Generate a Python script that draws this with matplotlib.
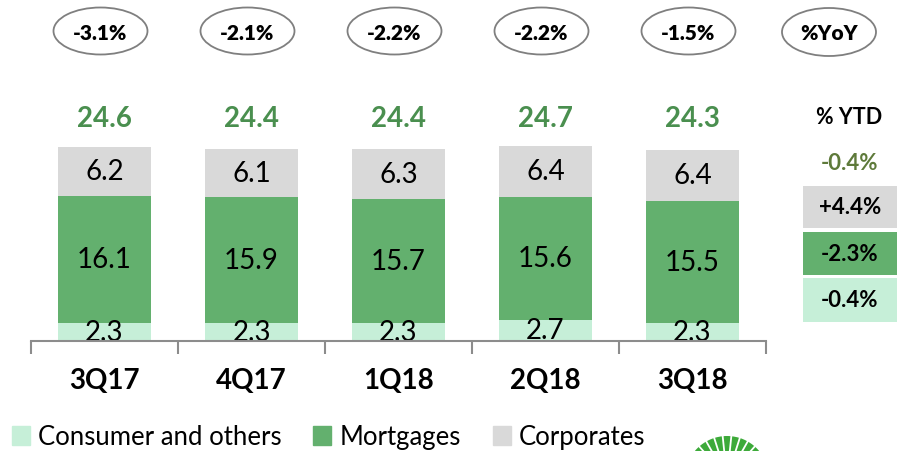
import matplotlib
matplotlib.use("Agg")
import matplotlib.pyplot as plt
from matplotlib.patches import Ellipse, Rectangle, Wedge
import numpy as np

plt.rcParams['font.family'] = ['Lato', 'DejaVu Sans']

categories = ["3Q17", "4Q17", "1Q18", "2Q18", "3Q18"]
consumer = [2.3, 2.3, 2.3, 2.7, 2.3]
mortgages = [16.1, 15.9, 15.7, 15.6, 15.5]
corporates = [6.2, 6.1, 6.3, 6.4, 6.4]
totals = [24.6, 24.4, 24.4, 24.7, 24.3]
yoy = ["-3.1%", "-2.1%", "-2.2%", "-2.2%", "-1.5%"]
ytd_total = "-0.4%"
ytd_corporates = "+4.4%"
ytd_mortgages = "-2.3%"
ytd_consumer = "-0.4%"
series_names = ["Consumer and others", "Mortgages", "Corporates"]

c_cons = "#C6EFD8"
c_mort = "#63B06E"
c_corp = "#D9D9D9"
c_total = "#4A8F4F"
c_olive = "#5E7A3A"

W, H = 909, 452
fig = plt.figure(figsize=(W / 100, H / 100), dpi=100)

def fx(x):
    return x / W

def fy(y):
    return 1 - y / H

# overlay axes in pixel coordinates (y downwards)
ov = fig.add_axes([0, 0, 1, 1])
ov.set_xlim(0, W)
ov.set_ylim(H, 0)
ov.axis('off')

ax_left, ax_right, ax_bottom = 31, 766, 342
ppu = 7.89
ax = fig.add_axes([fx(ax_left), fy(ax_bottom), (ax_right - ax_left) / W, ax_bottom / H])
ax.set_xlim(-0.5, 4.5)
ax.set_ylim(0, ax_bottom / ppu)

x = np.arange(len(categories))
bw = 0.63
cons = np.array(consumer)
mort = np.array(mortgages)
corp = np.array(corporates)
ax.bar(x, cons, bw, color=c_cons, label=series_names[0], zorder=2)
ax.bar(x, mort, bw, bottom=cons, color=c_mort, label=series_names[1], zorder=2)
ax.bar(x, corp, bw, bottom=cons + mort, color=c_corp, label=series_names[2], zorder=2)

for i in range(len(categories)):
    ax.text(x[i], cons[i] / 2 + 0.05, f"{consumer[i]:.1f}", ha='center', va='center',
            fontsize=20, color='black', clip_on=True, zorder=3)
    ax.text(x[i], cons[i] + mort[i] / 2, f"{mortgages[i]:.1f}", ha='center', va='center',
            fontsize=20, color='black', zorder=3)
    ax.text(x[i], cons[i] + mort[i] + corp[i] / 2, f"{corporates[i]:.1f}", ha='center', va='center',
            fontsize=20, color='black', zorder=3)

def xpix(i):
    return ax_left + (x[i] + 0.5) / 5.0 * (ax_right - ax_left)

# totals
for i in range(len(categories)):
    ov.text(xpix(i), 119, f"{totals[i]:.1f}", ha='center', va='center',
            fontsize=20, fontweight='bold', color=c_total)

# YoY ellipses
for i in range(len(categories)):
    xc = xpix(i) - 4
    ov.add_patch(Ellipse((xc, 32), 94, 47, facecolor='white', edgecolor='#7F7F7F', lw=1.3))
    ov.text(xc, 33, yoy[i], ha='center', va='center', fontsize=15,
            fontweight='heavy', color='black')
ov.add_patch(Ellipse((829, 33), 94, 48, facecolor='white', edgecolor='#7F7F7F', lw=1.3))
ov.text(829, 34, "%YoY", ha='center', va='center', fontsize=15,
        fontweight='heavy', color='black')

# YTD panel
ov.text(849, 118, "% YTD", ha='center', va='center', fontsize=15.5,
        fontweight='bold', color='black')
ov.text(850, 164, ytd_total, ha='center', va='center', fontsize=16,
        fontweight='bold', color=c_olive)
boxes = [(187, 229, c_corp, ytd_corporates), (233, 276, c_mort, ytd_mortgages),
         (279, 323, c_cons, ytd_consumer)]
for y0, y1, col, txt in boxes:
    ov.add_patch(Rectangle((803, y0), 94, y1 - y0, facecolor=col, edgecolor='none'))
    ov.text(850, (y0 + y1) / 2, txt, ha='center', va='center', fontsize=16,
            fontweight='bold', color='black')

# axes styling
for s in ['top', 'right', 'left']:
    ax.spines[s].set_visible(False)
ax.spines['bottom'].set_color('#8C8C8C')
ax.spines['bottom'].set_linewidth(1.5)
ax.spines['bottom'].set_zorder(4)
ax.set_yticks([])
ax.set_xticks(x)
ax.set_xticklabels(categories, fontsize=20, fontweight='bold')
ax.tick_params(axis='x', which='major', length=0, pad=19)
ax.set_xticks(np.arange(-0.5, 5.0, 1.0), minor=True)
ax.tick_params(axis='x', which='minor', length=9, width=1.5, color='#8C8C8C', direction='out')
ax.patch.set_alpha(0)

# legend
handles = [Rectangle((0, 0), 1, 1, color=c) for c in (c_cons, c_mort, c_corp)]
leg = fig.legend(handles, series_names, loc='center left',
                 bbox_to_anchor=(fx(12), fy(438)), ncol=3, frameon=False,
                 fontsize=18.5, handlelength=0.7, handleheight=0.75, handletextpad=0.3,
                 columnspacing=1.25, borderaxespad=0, borderpad=0)

# logo (partially visible)
cx, cy, rr = 727, 479, 42
ov.add_patch(Wedge((cx, cy), rr, 0, 360, facecolor='#3DAA3A', edgecolor='none'))
for ang in np.linspace(25, 155, 12):
    a = np.deg2rad(ang)
    ov.plot([cx + 16 * np.cos(a), cx + rr * np.cos(a)],
            [cy - 16 * np.sin(a), cy - rr * np.sin(a)], color='white', lw=1.3)
ov.set_xlim(0, W)
ov.set_ylim(H, 0)

fig.savefig("out.png", dpi=100)
